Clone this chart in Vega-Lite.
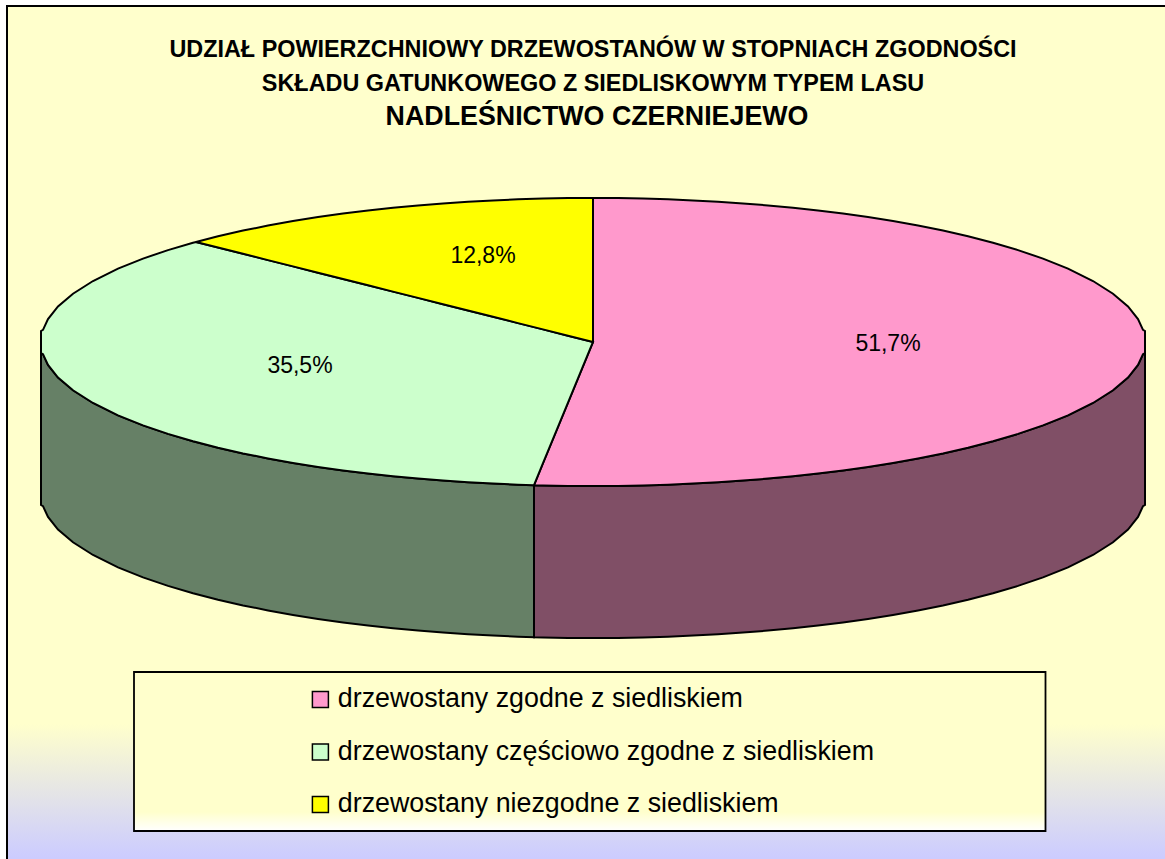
{"$schema":"https://vega.github.io/schema/vega-lite/v6.json","width":1165,"height":859,"padding":0,"autosize":{"type":"fit","contains":"padding"},"background":"#FFFFFF","config":{"view":{"stroke":null},"font":"Liberation Sans"},
"datasets":{
"frame":[{"x":7,"x2":1172,"y":6,"y2":866}],
"legendbox":[{"x":134,"x2":1045.5,"y":672,"y2":831}],
"greenWall":[{"x":41,"y":353,"y2":505},{"x":43,"y":354.2,"y2":506.2},{"x":48,"y":364.9,"y2":516.9},{"x":58,"y":377.5,"y2":529.5},{"x":73,"y":390.3,"y2":542.3},{"x":93,"y":403,"y2":555},{"x":118,"y":415.4,"y2":567.4},{"x":143,"y":425.4,"y2":577.4},{"x":168,"y":433.9,"y2":585.9},{"x":193,"y":441.2,"y2":593.2},{"x":218,"y":447.7,"y2":599.7},{"x":243,"y":453.4,"y2":605.4},{"x":268,"y":458.4,"y2":610.4},{"x":293,"y":462.9,"y2":614.9},{"x":318,"y":466.9,"y2":618.9},{"x":343,"y":470.4,"y2":622.4},{"x":368,"y":473.5,"y2":625.5},{"x":393,"y":476.2,"y2":628.2},{"x":418,"y":478.6,"y2":630.6},{"x":443,"y":480.6,"y2":632.6},{"x":468,"y":482.3,"y2":634.3},{"x":493,"y":483.6,"y2":635.6},{"x":518,"y":484.7,"y2":636.7},{"x":534,"y":485.2,"y2":637.2}],
"pinkWall":[{"x":534,"y":485.2,"y2":637.2},{"x":543,"y":485.4,"y2":637.4},{"x":568,"y":485.9,"y2":637.9},{"x":593,"y":486,"y2":638},{"x":618,"y":485.9,"y2":637.9},{"x":643,"y":485.4,"y2":637.4},{"x":668,"y":484.7,"y2":636.7},{"x":693,"y":483.6,"y2":635.6},{"x":718,"y":482.3,"y2":634.3},{"x":743,"y":480.6,"y2":632.6},{"x":768,"y":478.6,"y2":630.6},{"x":793,"y":476.2,"y2":628.2},{"x":818,"y":473.5,"y2":625.5},{"x":843,"y":470.4,"y2":622.4},{"x":868,"y":466.9,"y2":618.9},{"x":893,"y":462.9,"y2":614.9},{"x":918,"y":458.4,"y2":610.4},{"x":943,"y":453.4,"y2":605.4},{"x":968,"y":447.7,"y2":599.7},{"x":993,"y":441.2,"y2":593.2},{"x":1018,"y":433.9,"y2":585.9},{"x":1043,"y":425.4,"y2":577.4},{"x":1068,"y":415.4,"y2":567.4},{"x":1093,"y":403,"y2":555},{"x":1113,"y":390.3,"y2":542.3},{"x":1128,"y":377.5,"y2":529.5},{"x":1138,"y":364.9,"y2":516.9},{"x":1143,"y":354.2,"y2":506.2},{"x":1145,"y":353,"y2":505}],
"pink":[{"x":534,"y":485.2,"y2":485.2},{"x":543,"y":463.2,"y2":485.4},{"x":568,"y":402.6,"y2":485.9},{"x":593,"y":342,"y2":486},{"x":593,"y":198,"y2":486},{"x":618,"y":198.1,"y2":485.9},{"x":643,"y":198.6,"y2":485.4},{"x":668,"y":199.3,"y2":484.7},{"x":693,"y":200.4,"y2":483.6},{"x":718,"y":201.7,"y2":482.3},{"x":743,"y":203.4,"y2":480.6},{"x":768,"y":205.4,"y2":478.6},{"x":793,"y":207.8,"y2":476.2},{"x":818,"y":210.5,"y2":473.5},{"x":843,"y":213.6,"y2":470.4},{"x":868,"y":217.1,"y2":466.9},{"x":893,"y":221.1,"y2":462.9},{"x":918,"y":225.6,"y2":458.4},{"x":943,"y":230.6,"y2":453.4},{"x":968,"y":236.3,"y2":447.7},{"x":993,"y":242.8,"y2":441.2},{"x":1018,"y":250.1,"y2":433.9},{"x":1043,"y":258.6,"y2":425.4},{"x":1068,"y":268.6,"y2":415.4},{"x":1093,"y":281,"y2":403},{"x":1113,"y":293.7,"y2":390.3},{"x":1128,"y":306.5,"y2":377.5},{"x":1138,"y":319.1,"y2":364.9},{"x":1143,"y":329.8,"y2":354.2},{"x":1145,"y":331,"y2":353}],
"green":[{"x":41,"y":331,"y2":353},{"x":43,"y":329.8,"y2":354.2},{"x":48,"y":319.1,"y2":364.9},{"x":58,"y":306.5,"y2":377.5},{"x":73,"y":293.7,"y2":390.3},{"x":93,"y":281,"y2":403},{"x":118,"y":268.6,"y2":415.4},{"x":143,"y":258.6,"y2":425.4},{"x":168,"y":250.1,"y2":433.9},{"x":193,"y":242.8,"y2":441.2},{"x":196,"y":242,"y2":442},{"x":218,"y":247.5,"y2":447.7},{"x":243,"y":253.8,"y2":453.4},{"x":268,"y":260.1,"y2":458.4},{"x":293,"y":266.4,"y2":462.9},{"x":318,"y":272.7,"y2":466.9},{"x":343,"y":279,"y2":470.4},{"x":368,"y":285.3,"y2":473.5},{"x":393,"y":291.6,"y2":476.2},{"x":418,"y":297.9,"y2":478.6},{"x":443,"y":304.2,"y2":480.6},{"x":468,"y":310.5,"y2":482.3},{"x":493,"y":316.8,"y2":483.6},{"x":518,"y":323.1,"y2":484.7},{"x":534,"y":327.1,"y2":485.2},{"x":543,"y":329.4,"y2":463.2},{"x":568,"y":335.7,"y2":402.6},{"x":593,"y":342,"y2":342}],
"yellow":[{"x":196,"y":242,"y2":242},{"x":218,"y":236.3,"y2":247.5},{"x":243,"y":230.6,"y2":253.8},{"x":268,"y":225.6,"y2":260.1},{"x":293,"y":221.1,"y2":266.4},{"x":318,"y":217.1,"y2":272.7},{"x":343,"y":213.6,"y2":279},{"x":368,"y":210.5,"y2":285.3},{"x":393,"y":207.8,"y2":291.6},{"x":418,"y":205.4,"y2":297.9},{"x":443,"y":203.4,"y2":304.2},{"x":468,"y":201.7,"y2":310.5},{"x":493,"y":200.4,"y2":316.8},{"x":518,"y":199.3,"y2":323.1},{"x":543,"y":198.6,"y2":329.4},{"x":568,"y":198.1,"y2":335.7},{"x":593,"y":198,"y2":342}],
"shares":[{"label":"51,7%","x":888,"y":344},{"label":"35,5%","x":300,"y":366},{"label":"12,8%","x":483,"y":256}],
"title1":[{"label":"UDZIAŁ POWIERZCHNIOWY DRZEWOSTANÓW W STOPNIACH ZGODNOŚCI","x":593,"y":50},{"label":"SKŁADU GATUNKOWEGO Z SIEDLISKOWYM TYPEM LASU","x":593,"y":84}],
"title2":[{"label":"NADLEŚNICTWO CZERNIEJEWO","x":597,"y":117}]
},
"encoding":{"x":{"field":"x","type":"quantitative","scale":{"domain":[0,1165],"nice":false,"zero":false},"axis":null},"y":{"field":"y","type":"quantitative","scale":{"domain":[859,0],"nice":false,"zero":false},"axis":null}},
"layer":[
{"data":{"name":"frame"},"mark":{"type":"rect","clip":true,"stroke":"#000000","strokeWidth":2,"color":{"gradient":"linear","x1":0,"y1":0,"x2":0,"y2":1,"stops":[{"offset":0,"color":"#FFFFCC"},{"offset":0.835,"color":"#FFFFCC"},{"offset":0.99,"color":"#CCCCFF"},{"offset":1,"color":"#CCCCFF"}]}},"encoding":{"x2":{"field":"x2"},"y2":{"field":"y2"}}},
{"data":{"name":"greenWall"},"mark":{"type":"area","color":"#668066","stroke":"#000000","strokeWidth":2},"encoding":{"y2":{"field":"y2"}}},
{"data":{"name":"pinkWall"},"mark":{"type":"area","color":"#804F66","stroke":"#000000","strokeWidth":2},"encoding":{"y2":{"field":"y2"}}},
{"data":{"name":"pink"},"mark":{"type":"area","stroke":"#000000","strokeWidth":2,"opacity":1},"encoding":{"y2":{"field":"y2"},"color":{"datum":"drzewostany zgodne z siedliskiem","type":"nominal","scale":{"domain":["drzewostany zgodne z siedliskiem","drzewostany częściowo zgodne z siedliskiem","drzewostany niezgodne z siedliskiem"],"range":["#FF99CC","#CCFFCC","#FFFF00"]},"legend":{"title":null,"orient":"none","legendX":307,"legendY":686,"symbolType":"square","symbolSize":256,"symbolStrokeColor":"#000000","symbolStrokeWidth":1.5,"symbolOpacity":1,"labelFont":"Liberation Sans","labelFontSize":26.8,"labelColor":"#000000","labelLimit":800,"labelOffset":4,"rowPadding":24.5,"labelBaseline":"middle"}}}},
{"data":{"name":"green"},"mark":{"type":"area","stroke":"#000000","strokeWidth":2,"opacity":1},"encoding":{"y2":{"field":"y2"},"color":{"datum":"drzewostany częściowo zgodne z siedliskiem","type":"nominal"}}},
{"data":{"name":"yellow"},"mark":{"type":"area","stroke":"#000000","strokeWidth":2,"opacity":1},"encoding":{"y2":{"field":"y2"},"color":{"datum":"drzewostany niezgodne z siedliskiem","type":"nominal"}}},
{"data":{"name":"legendbox"},"mark":{"type":"rect","stroke":"#000000","strokeWidth":1.8,"color":{"gradient":"linear","x1":0,"y1":0,"x2":0,"y2":1,"stops":[{"offset":0,"color":"#FFFFCC"},{"offset":0.88,"color":"#FFFFCC"},{"offset":1,"color":"#FFFFFF"}]}},"encoding":{"x2":{"field":"x2"},"y2":{"field":"y2"}}},
{"data":{"name":"shares"},"mark":{"type":"text","font":"Liberation Sans","fontSize":23,"color":"#000000","align":"center","baseline":"middle"},"encoding":{"text":{"field":"label"}}},
{"data":{"name":"title1"},"mark":{"type":"text","font":"Liberation Sans","fontSize":23.4,"fontWeight":"bold","color":"#000000","align":"center","baseline":"middle"},"encoding":{"text":{"field":"label"}}},
{"data":{"name":"title2"},"mark":{"type":"text","font":"Liberation Sans","fontSize":26.8,"fontWeight":"bold","color":"#000000","align":"center","baseline":"middle"},"encoding":{"text":{"field":"label"}}}
]}
